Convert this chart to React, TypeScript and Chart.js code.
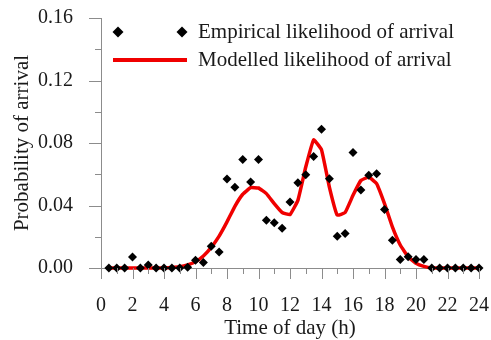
import { useEffect, useRef } from 'react';
import { Chart, registerables } from 'chart.js';

Chart.register(...registerables);

// Half-hour time bins (h)
const hours = [
  0.5, 1, 1.5, 2, 2.5, 3, 3.5, 4, 4.5, 5, 5.5, 6,
  6.5, 7, 7.5, 8, 8.5, 9, 9.5, 10, 10.5, 11, 11.5, 12,
  12.5, 13, 13.5, 14, 14.5, 15, 15.5, 16, 16.5, 17, 17.5, 18,
  18.5, 19, 19.5, 20, 20.5, 21, 21.5, 22, 22.5, 23, 23.5, 24,
];

// Observed arrival probability per bin
const empirical = [
  0, 0, 0, 0.007, 0, 0.002, 0, 0, 0, 0, 0.0005, 0.005,
  0.0035, 0.014, 0.0102, 0.057, 0.0517, 0.0695, 0.055, 0.0695, 0.0306, 0.029, 0.0255, 0.0423,
  0.0546, 0.0597, 0.0714, 0.0888, 0.0572, 0.0204, 0.0221, 0.074, 0.05, 0.0593, 0.0604, 0.0375,
  0.0178, 0.0055, 0.0072, 0.0055, 0.0055, 0, 0, 0, 0, 0, 0, 0,
];

// Fitted arrival probability per bin
const modelled = [
  0, 0, 0, 0, 0, 0, 0, 0, 0.0003, 0.0008, 0.002, 0.004,
  0.0077, 0.0132, 0.0204, 0.0295, 0.0395, 0.0472, 0.0514, 0.0512, 0.0476, 0.0412, 0.0355, 0.0342,
  0.0433, 0.0646, 0.082, 0.0757, 0.0518, 0.0338, 0.0355, 0.0465, 0.056, 0.0582, 0.054, 0.0412,
  0.0263, 0.0147, 0.0072, 0.003, 0.001, 0, 0, 0, 0, 0, 0, 0,
];

const xTickLabels = ['0', '2', '4', '6', '8', '10', '12', '14', '16', '18', '20', '22', '24'];
const yTickLabels = ['0.00', '0.04', '0.08', '0.12', '0.16'];

const EMPIRICAL_LABEL = 'Empirical likelihood of arrival';
const MODELLED_LABEL = 'Modelled likelihood of arrival';

const FONT = '"Liberation Serif", "Times New Roman", serif';
const TEXT = '#1a1a1a';
const AXIS = '#8c8c8c';
const RED = '#f00000';

const near = (a: number, b: number) => Math.abs(a - b) < 1e-6;
const xLabelFor = (v: number) => xTickLabels.find((s) => near(Number(s), v)) ?? '';
const yLabelFor = (v: number) => yTickLabels.find((s) => near(Number(s), v)) ?? '';

// Outward major/minor tick marks on both axes
const axisTicks = {
  id: 'axisTicks',
  afterDraw(chart: any) {
    const { ctx, chartArea } = chart;
    const xs = chart.scales.x;
    const ys = chart.scales.y;
    ctx.save();
    ctx.strokeStyle = AXIS;
    ctx.lineWidth = 1;
    ctx.beginPath();
    for (const t of ys.ticks) {
      const py = Math.round(ys.getPixelForValue(t.value)) + 0.5;
      const len = yLabelFor(t.value) ? 12 : 6;
      ctx.moveTo(chartArea.left - len, py);
      ctx.lineTo(chartArea.left, py);
    }
    for (const t of xs.ticks) {
      const px = Math.round(xs.getPixelForValue(t.value)) + 0.5;
      const len = xLabelFor(t.value) ? 11 : 6;
      ctx.moveTo(px, chartArea.bottom);
      ctx.lineTo(px, chartArea.bottom + len);
    }
    ctx.stroke();
    ctx.restore();
  },
};

// Legend drawn inside the plot, upper left
const insetLegend = {
  id: 'insetLegend',
  afterDraw(chart: any) {
    const { ctx, chartArea } = chart;
    const ds = chart.data.datasets;
    const x0 = chartArea.left;
    const y0 = chartArea.top;
    const row1 = y0 + 14;
    const row2 = y0 + 42;
    const textX = x0 + 97;
    ctx.save();
    ctx.fillStyle = '#000';
    const diamond = (cx: number, cy: number, r: number) => {
      ctx.beginPath();
      ctx.moveTo(cx - r, cy);
      ctx.lineTo(cx, cy - r);
      ctx.lineTo(cx + r, cy);
      ctx.lineTo(cx, cy + r);
      ctx.closePath();
      ctx.fill();
    };
    diamond(x0 + 17, row1, 5.5);
    diamond(x0 + 81, row1, 5.5);
    ctx.strokeStyle = RED;
    ctx.lineWidth = 4;
    ctx.beginPath();
    ctx.moveTo(x0 + 12, row2);
    ctx.lineTo(x0 + 86, row2);
    ctx.stroke();
    ctx.fillStyle = TEXT;
    ctx.font = `21px ${FONT}`;
    ctx.textAlign = 'left';
    ctx.textBaseline = 'middle';
    ctx.fillText(ds[0].label, textX, row1);
    ctx.fillText(ds[1].label, textX, row2);
    ctx.restore();
  },
};

export default function App() {
  const canvasRef = useRef<HTMLCanvasElement>(null);

  useEffect(() => {
    const canvas = canvasRef.current;
    if (!canvas) return;
    const chart = new Chart(canvas, {
      type: 'line',
      data: {
        datasets: [
          {
            label: EMPIRICAL_LABEL,
            data: hours.map((h, i) => ({ x: h, y: empirical[i] })),
            showLine: false,
            pointStyle: 'rectRot',
            pointRadius: 4.5,
            pointHoverRadius: 4.5,
            pointBackgroundColor: '#000',
            pointBorderWidth: 0,
            borderColor: '#000',
            backgroundColor: '#000',
            clip: false,
          },
          {
            label: MODELLED_LABEL,
            data: hours.map((h, i) => ({ x: h, y: modelled[i] })),
            borderColor: RED,
            backgroundColor: RED,
            borderWidth: 3.5,
            pointRadius: 0,
            tension: 0.1,
            clip: false,
          },
        ],
      },
      options: {
        animation: false,
        responsive: false,
        events: [],
        layout: { padding: { top: 18, right: 12, left: 0, bottom: 0 } },
        plugins: {
          legend: { display: false },
          tooltip: { enabled: false },
        },
        scales: {
          x: {
            type: 'linear',
            min: 0,
            max: 24,
            // tick marks are drawn by the axisTicks plugin; tickLength only reserves space
            grid: { display: false, drawTicks: true, tickLength: 26 },
            border: { display: true, color: AXIS, width: 1 },
            ticks: {
              stepSize: 1,
              autoSkip: false,
              maxRotation: 0,
              padding: 0,
              color: TEXT,
              font: { family: FONT, size: 20 },
              callback: (v: any) => xLabelFor(Number(v)),
            },
            title: {
              display: true,
              text: 'Time of day (h)',
              color: TEXT,
              font: { family: FONT, size: 21, lineHeight: 1.1 },
              padding: { top: 0, bottom: 0 },
            },
            afterFit: (scale: any) => {
              scale.height = 72;
            },
          },
          y: {
            type: 'linear',
            min: 0,
            max: 0.16,
            grid: { display: false, drawTicks: true, tickLength: 28 },
            border: { display: true, color: AXIS, width: 1 },
            ticks: {
              stepSize: 0.02,
              autoSkip: false,
              padding: 0,
              color: TEXT,
              font: { family: FONT, size: 20 },
              callback: (v: any) => yLabelFor(Number(v)),
            },
            title: {
              display: true,
              text: 'Probability of arrival',
              color: TEXT,
              font: { family: FONT, size: 21, lineHeight: 1.2 },
              padding: { top: 10, bottom: 0 },
            },
            afterFit: (scale: any) => {
              scale.width = 101;
            },
          },
        },
      },
      plugins: [axisTicks, insetLegend],
    });
    return () => chart.destroy();
  }, []);

  return (
    <div style={{ position: 'fixed', left: 0, top: 0, width: 491, height: 340, background: '#fff' }}>
      <canvas ref={canvasRef} width={491} height={340} style={{ display: 'block' }} />
    </div>
  );
}
